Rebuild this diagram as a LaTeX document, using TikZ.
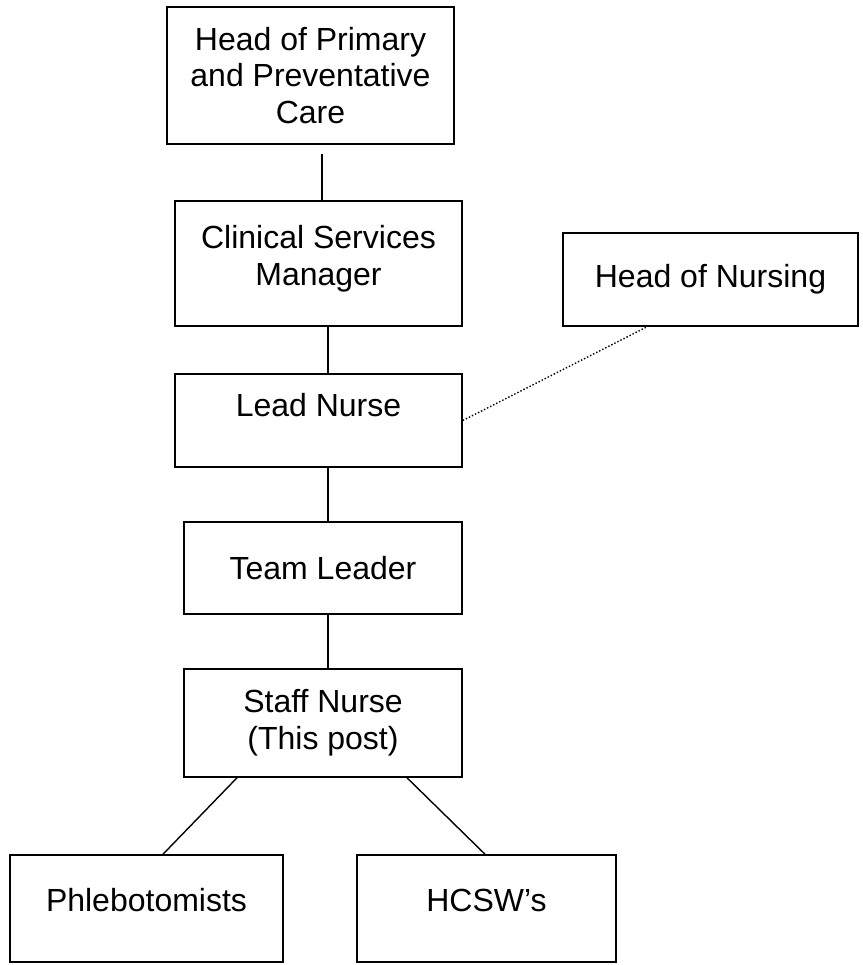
\documentclass[tikz,border=0pt]{standalone}
\usepackage{fontspec}
\setmainfont{Liberation Sans}
\usetikzlibrary{positioning}

\begin{document}
\begin{tikzpicture}[
        x=1pt, y=-1pt,
        box/.style={rectangle, draw, line width=1.6pt, inner sep=0pt, align=center, font=\fontsize{32}{36.7}\selectfont},
        link/.style={line width=1.4pt},
        dotlink/.style={line width=1.4pt, dotted}
    ]
        \useasboundingbox (0,0) rectangle (862,965);
        \coordinate (spine) at (328,0);

        \node[box, minimum width=287pt, minimum height=137pt] (hpp) at (310.5,75.5) {Head of Primary\\and Preventative\\Care};
        \node[box, minimum width=287pt, minimum height=125pt, text depth=16pt] (csm) at (318.5,263.5) {Clinical Services\\Manager};
        \node[box, minimum width=295pt, minimum height=93pt] (hon) at (710.5,279.5) {Head of Nursing};
        \node[box, minimum width=287pt, minimum height=93pt, text depth=31pt] (lead) at (318.5,420.5) {Lead Nurse};
        \node[box, minimum width=278pt, minimum height=92pt] (team) at (323,568) {Team Leader};
        \node[box, minimum width=278pt, minimum height=108pt] (staff) at (323,723) {Staff Nurse\\(This post)};
        \node[box, minimum width=273pt, minimum height=107pt, text depth=17pt] (phleb) at (146.5,908.5) {Phlebotomists};
        \node[box, minimum width=259pt, minimum height=107pt, text depth=17pt] (hcsw) at (486.5,908.5) {HCSW’s};

        % reporting lines
        \draw[link, shorten <=9pt] (hpp.south -| 322,0) -- (csm.north -| 322,0);
        \draw[link] (spine |- csm.south) -- (spine |- lead.north);
        \draw[link] (spine |- lead.south) -- (spine |- team.north);
        \draw[link] (spine |- team.south) -- (spine |- staff.north);
        \draw[link] ([xshift=-86pt]staff.south) -- ([xshift=16.5pt]phleb.north);
        \draw[link] ([xshift=84pt]staff.south) -- ([xshift=-1.5pt]hcsw.north);
        \draw[dotlink] (lead.east) -- ([xshift=-63.5pt]hon.south);
    \end{tikzpicture}
\end{document}
